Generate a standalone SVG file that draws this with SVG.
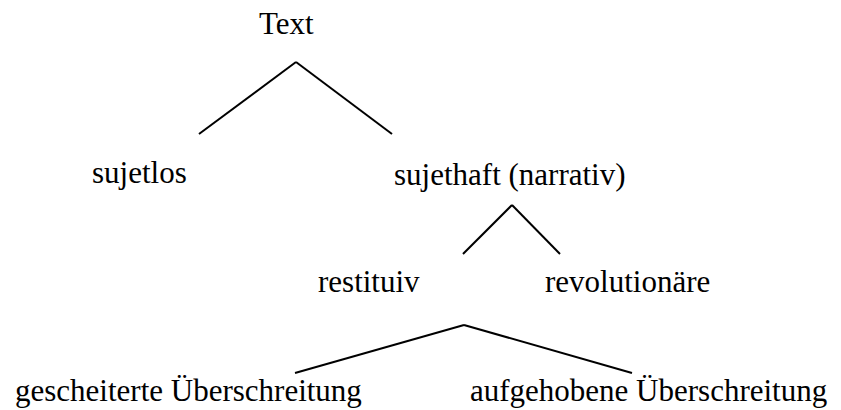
<svg xmlns="http://www.w3.org/2000/svg" width="841" height="410" viewBox="0 0 841 410">
<style>
text{font-family:"Liberation Serif","Times New Roman",serif;font-size:31px;fill:#000}
.c line{stroke:#000;stroke-width:2;stroke-linecap:butt}
</style>
<rect width="841" height="410" fill="#fff"/>
<g class="c" id="connectors">
<line x1="296" y1="62" x2="199" y2="134"/>
<line x1="296" y1="62" x2="392" y2="134"/>
<line x1="512" y1="205" x2="463" y2="254"/>
<line x1="512" y1="205" x2="560" y2="254"/>
<line x1="464" y1="325" x2="295" y2="373"/>
<line x1="464" y1="325" x2="632" y2="373"/>
</g>
<g id="n-text"><text x="259" y="34">Text</text></g>
<g id="n-sujetlos"><text x="92" y="183">sujetlos</text></g>
<g id="n-sujethaft"><text x="394" y="185">sujethaft (narrativ)</text></g>
<g id="n-restituiv"><text x="318" y="292">restituiv</text></g>
<g id="n-revolutionaere"><text x="545" y="292">revolutionäre</text></g>
<g id="n-gescheiterte"><text x="15" y="401">gescheiterte Überschreitung</text></g>
<g id="n-aufgehobene"><text x="470" y="401">aufgehobene Überschreitung</text></g>
</svg>
